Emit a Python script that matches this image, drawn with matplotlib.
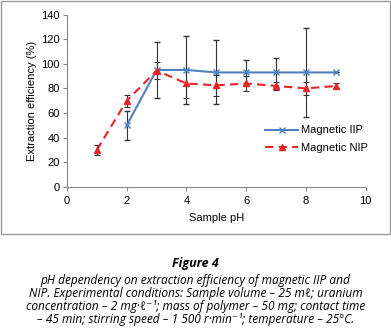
import matplotlib
matplotlib.use("Agg")
import matplotlib.pyplot as plt
from matplotlib.patches import Rectangle

ph_iip = [2, 3, 4, 5, 6, 7, 8, 9]
eff_iip = [50, 95, 95, 93, 93, 93, 93, 93]
err_iip = [12, 22.5, 27.5, 26, 10, 12, 36, 0]

ph_nip = [1, 2, 3, 4, 5, 6, 7, 8, 9]
eff_nip = [30, 70, 94.5, 84, 82.5, 84, 82, 80, 82]
err_nip = [4, 5, 7, 12, 8.5, 6, 3, 5, 2]

caption_title = "Figure 4"
caption_lines = [
    "pH dependency on extraction efficiency of magnetic IIP and",
    "NIP. Experimental conditions: Sample volume \u2013 25 m\u2113; uranium",
    "concentration \u2013 2 mg\u00b7\u2113\u207b\u00b9; mass of polymer \u2013 50 mg; contact time",
    "\u2013 45 min; stirring speed \u2013 1 500 r\u00b7min\u207b\u00b9; temperature \u2013 25\u00b0C.",
]

W, H = 391, 336
fig = plt.figure(figsize=(W / 100, H / 100), dpi=100)
plt.rcParams['font.family'] = ['Liberation Sans', 'DejaVu Sans']

# chart frame
fig.patches.append(Rectangle((0.5 / W, 1 - 234 / H), 389 / W, 233.5 / H,
                             transform=fig.transFigure, fill=False,
                             edgecolor='#999999', linewidth=1))

ax = fig.add_axes([67 / W, 1 - 186.7 / H, (365.7 - 67) / W, (186.7 - 14.7) / H])

ax.errorbar(ph_iip, eff_iip, yerr=err_iip, color='#4F81BD', ecolor='#333333',
            elinewidth=0.8, capsize=2.5, capthick=0.8, marker='x', markersize=4.5,
            markeredgewidth=1, linewidth=1.5, label='Magnetic IIP')
ax.errorbar(ph_nip, eff_nip, yerr=err_nip, color='#E8242A', ecolor='#333333',
            elinewidth=0.8, capsize=2.5, capthick=0.8, marker='^', markersize=4,
            linestyle=(0, (4, 2.5)), linewidth=1.5, label='Magnetic NIP')

ax.set_xlim(0, 10)
ax.set_ylim(0, 140)
ax.set_xticks(range(0, 11, 2))
ax.set_yticks(range(0, 141, 20))
for s in ['top', 'right']:
    ax.spines[s].set_visible(False)
for s in ['left', 'bottom']:
    ax.spines[s].set_color('#888888')
    ax.spines[s].set_linewidth(0.8)
ax.tick_params(length=3, width=0.8, color='#888888', labelsize=8, pad=2)
ax.tick_params(axis='x', pad=4)
ax.set_xlabel('Sample pH', fontsize=8, labelpad=5)
ax.set_ylabel('Extraction efficiency (%)', fontsize=8, labelpad=3)

handles, labels = ax.get_legend_handles_labels()
handles = [h[0] for h in handles]
ax.legend(handles, labels, loc='center left', bbox_to_anchor=(0.663, 0.277),
          frameon=False, fontsize=8, handlelength=3.0, handletextpad=0.2,
          labelspacing=0.65, borderaxespad=0, borderpad=0)

fig.text(0.5, 1 - 264 / H, caption_title, ha='center', va='center',
         fontsize=9, fontweight='bold', style='italic',
         family=['Open Sans', 'DejaVu Sans'])
for i, line in enumerate(caption_lines):
    fig.text(0.5, 1 - (280.5 + i * 13) / H, line, ha='center', va='center',
             fontsize=8.6, style='italic', family=['Open Sans', 'DejaVu Sans'])

fig.savefig('out.png', dpi=100)
